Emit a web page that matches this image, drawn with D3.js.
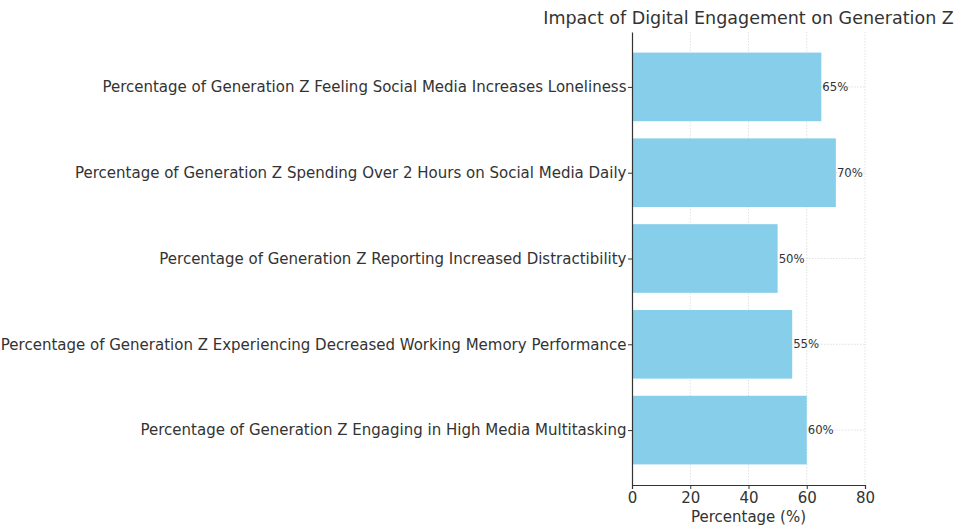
<!DOCTYPE html>
<html>
<head>
<meta charset="utf-8">
<script src="https://cdn.jsdelivr.net/npm/d3@7"></script>
<style>
  body { margin: 0; background: #fff; }
  text { font-family: "DejaVu Sans", sans-serif; fill: #333; }
</style>
</head>
<body>
<svg id="chart" width="960" height="530"></svg>
<script>
const categories = [
  'Percentage of Generation Z Engaging in High Media Multitasking',
  'Percentage of Generation Z Experiencing Decreased Working Memory Performance',
  'Percentage of Generation Z Reporting Increased Distractibility',
  'Percentage of Generation Z Spending Over 2 Hours on Social Media Daily',
  'Percentage of Generation Z Feeling Social Media Increases Loneliness',
];
const values = [60, 55, 50, 70, 65];
const xTicks = [0, 20, 40, 60, 80];

const svg = d3.select('#chart');
const plot = { left: 632, right: 865, top: 32, bottom: 485 };

const x = d3.scaleLinear().domain([0, 80]).range([plot.left, plot.right]);
const y = d3.scaleLinear().domain([-0.64, 4.64]).range([plot.bottom, plot.top]);
const barHalf = 0.4;

// grid
svg.append('g').selectAll('line').data(xTicks.slice(1)).join('line')
  .attr('x1', (d) => x(d)).attr('x2', (d) => x(d))
  .attr('y1', plot.top).attr('y2', plot.bottom)
  .attr('stroke', '#d8d8d8').attr('stroke-width', 0.8).attr('stroke-dasharray', '1.5,1.5');
svg.append('g').selectAll('line').data(categories).join('line')
  .attr('x1', plot.left).attr('x2', plot.right)
  .attr('y1', (_, i) => y(i)).attr('y2', (_, i) => y(i))
  .attr('stroke', '#d8d8d8').attr('stroke-width', 0.8).attr('stroke-dasharray', '1.5,1.5');

// bars
svg.append('g').selectAll('rect').data(values).join('rect')
  .attr('x', x(0))
  .attr('y', (_, i) => y(i + barHalf))
  .attr('width', (d) => x(d) - x(0))
  .attr('height', (_, i) => y(i - barHalf) - y(i + barHalf))
  .attr('fill', '#87ceeb');

// value labels
svg.append('g').selectAll('text').data(values).join('text')
  .attr('x', (d) => x(d) + 1)
  .attr('y', (_, i) => y(i))
  .attr('dy', '0.35em')
  .attr('font-size', 11.7)
  .text((d) => `${d}%`);

// axes
const xAxis = svg.append('g').attr('transform', `translate(0,${plot.bottom})`)
  .call(d3.axisBottom(x).tickValues(xTicks).tickSize(4).tickPadding(3));
xAxis.select('.domain').attr('stroke', '#333').attr('stroke-width', 1.2);
xAxis.selectAll('.tick line').attr('stroke', '#333');
xAxis.selectAll('.tick text').attr('font-size', 15).attr('font-family', '"DejaVu Sans", sans-serif').attr('fill', '#333');

const yAxis = svg.append('g').attr('transform', `translate(${plot.left},0)`)
  .call(d3.axisLeft(y).tickValues(d3.range(categories.length)).tickFormat((i) => categories[i]).tickSize(4).tickPadding(1.5).tickSizeOuter(0));
yAxis.select('.domain').attr('stroke', '#333').attr('stroke-width', 1.2);
yAxis.selectAll('.tick line').attr('stroke', '#333');
yAxis.selectAll('.tick text').attr('font-size', 15).attr('font-family', '"DejaVu Sans", sans-serif').attr('fill', '#333');

svg.append('text')
  .attr('x', (plot.left + plot.right) / 2).attr('y', 522)
  .attr('text-anchor', 'middle').attr('font-size', 15)
  .text('Percentage (%)');

svg.append('text')
  .attr('x', (plot.left + plot.right) / 2).attr('y', 24)
  .attr('text-anchor', 'middle').attr('font-size', 17.5)
  .text('Impact of Digital Engagement on Generation Z');
</script>
</body>
</html>
